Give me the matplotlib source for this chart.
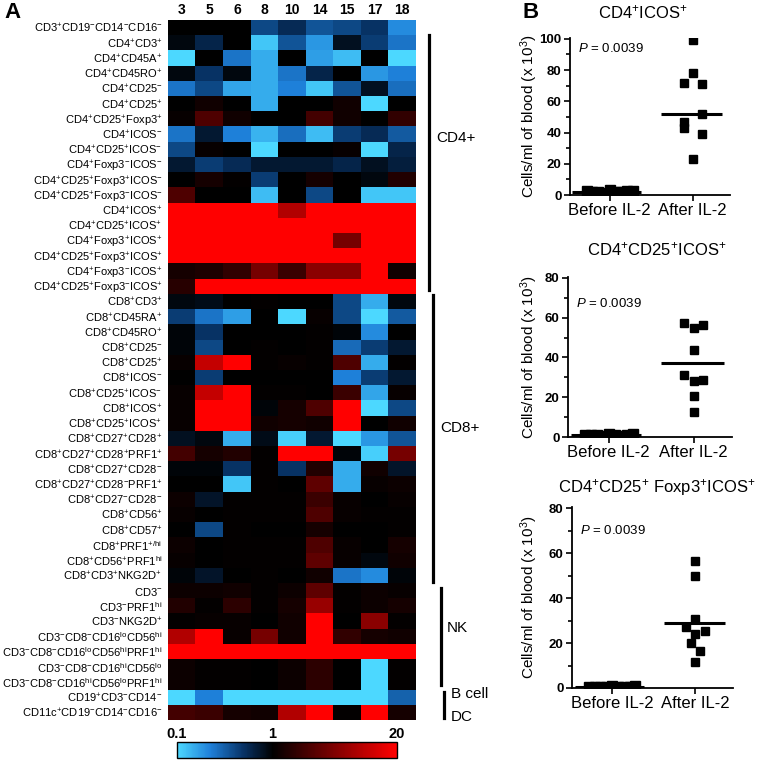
import numpy as np
import matplotlib
matplotlib.use('Agg')
import matplotlib.pyplot as plt
from matplotlib.colors import LinearSegmentedColormap, LogNorm
from matplotlib.ticker import MultipleLocator, FixedLocator

plt.rcParams['font.family'] = ['Liberation Sans', 'DejaVu Sans']
plt.rcParams['mathtext.fontset'] = 'custom'
plt.rcParams['mathtext.rm'] = 'Liberation Sans'
plt.rcParams['mathtext.it'] = 'Liberation Sans:italic'
plt.rcParams['mathtext.bf'] = 'Liberation Sans:bold'

W, H = 770, 761

# ---- panel A data: fold change (after / before IL-2) per patient ----
patients = ['3', '5', '6', '8', '10', '14', '15', '17', '18']

# '+' and '-' become superscripts, {..} is a superscript word
populations = [
    'CD3+CD19-CD14-CD16-', 'CD4+CD3+', 'CD4+CD45A+', 'CD4+CD45RO+',
    'CD4+CD25-', 'CD4+CD25+', 'CD4+CD25+Foxp3+', 'CD4+ICOS-',
    'CD4+CD25+ICOS-', 'CD4+Foxp3-ICOS-', 'CD4+CD25+Foxp3+ICOS-',
    'CD4+CD25+Foxp3-ICOS-', 'CD4+ICOS+', 'CD4+CD25+ICOS+',
    'CD4+Foxp3+ICOS+', 'CD4+CD25+Foxp3+ICOS+', 'CD4+Foxp3-ICOS+',
    'CD4+CD25+Foxp3-ICOS+',
    'CD8+CD3+', 'CD8+CD45RA+', 'CD8+CD45RO+', 'CD8+CD25-', 'CD8+CD25+',
    'CD8+ICOS-', 'CD8+CD25+ICOS-', 'CD8+ICOS+', 'CD8+CD25+ICOS+',
    'CD8+CD27+CD28+', 'CD8+CD27+CD28+PRF1+', 'CD8+CD27+CD28-',
    'CD8+CD27+CD28-PRF1+', 'CD8+CD27-CD28-', 'CD8+CD56+', 'CD8+CD57+',
    'CD8+PRF1{+/hi}', 'CD8+CD56+PRF1{hi}', 'CD8+CD3+NKG2D+',
    'CD3-', 'CD3-PRF1{hi}', 'CD3-NKG2D+', 'CD3-CD8-CD16{lo}CD56{hi}',
    'CD3-CD8-CD16{lo}CD56{hi}PRF1{hi}', 'CD3-CD8-CD16{hi}CD56{lo}',
    'CD3-CD8-CD16{hi}CD56{lo}PRF1{hi}',
    'CD19+CD3-CD14-', 'CD11c+CD19-CD14-CD16-',
]

fold_change = np.array([
    [1.0, 1.0, 1.0, 0.4, 0.55, 0.35, 0.4, 0.5, 0.2],
    [0.9, 0.6, 1.0, 0.12, 0.35, 0.18, 0.8, 0.45, 0.25],
    [0.1, 1.0, 0.25, 0.15, 1.0, 0.17, 0.13, 1.0, 0.1],
    [0.9, 0.5, 0.9, 0.15, 0.25, 0.6, 1.0, 0.18, 0.22],
    [0.25, 0.4, 0.16, 0.15, 0.22, 0.12, 0.35, 0.8, 0.27],
    [1.0, 1.2, 1.0, 0.15, 1.0, 1.0, 1.2, 0.1, 1.0],
    [1.1, 2.5, 1.2, 1.0, 1.0, 2.2, 1.2, 1.0, 1.8],
    [0.25, 0.7, 0.22, 0.14, 0.27, 0.13, 0.45, 0.55, 0.33],
    [0.4, 1.1, 1.0, 0.1, 1.0, 1.0, 1.1, 0.1, 0.6],
    [0.7, 0.45, 0.55, 0.7, 0.7, 0.7, 0.6, 0.8, 0.65],
    [1.0, 1.3, 1.05, 0.45, 1.0, 1.3, 1.0, 0.9, 1.5],
    [2.5, 1.0, 1.0, 0.13, 1.0, 0.4, 1.0, 0.12, 0.12],
    [20, 20, 20, 20, 8, 20, 20, 20, 20],
    [20, 20, 20, 20, 20, 20, 20, 20, 20],
    [20, 20, 20, 20, 20, 20, 4, 20, 20],
    [20, 20, 20, 20, 20, 20, 20, 20, 20],
    [1.3, 1.4, 1.8, 4, 2, 5, 5, 20, 1.2],
    [1.6, 20, 20, 20, 20, 20, 20, 20, 20],
    [0.9, 0.85, 1.0, 1.05, 1.0, 1.0, 0.4, 0.15, 0.9],
    [0.45, 0.25, 0.17, 1.0, 0.1, 1.1, 0.4, 0.1, 0.33],
    [0.95, 0.5, 1.0, 1.0, 1.0, 1.05, 0.95, 0.2, 1.0],
    [0.95, 0.4, 1.0, 1.05, 1.0, 1.05, 0.28, 0.45, 0.7],
    [1.1, 10, 20, 1.05, 1.1, 1.05, 2.5, 0.15, 1.05],
    [1.0, 0.45, 1.0, 1.0, 1.0, 1.0, 0.22, 0.45, 0.7],
    [1.1, 10, 20, 1.05, 1.05, 1.0, 2.0, 0.16, 1.1],
    [1.1, 20, 20, 0.95, 1.3, 2.5, 20, 0.1, 0.4],
    [1.1, 20, 20, 1.2, 1.3, 1.2, 20, 1.0, 1.2],
    [0.8, 0.9, 0.15, 0.85, 0.11, 0.7, 0.1, 0.18, 0.35],
    [2.2, 1.3, 1.5, 1.05, 20, 20, 0.95, 0.11, 4],
    [0.95, 0.95, 0.5, 1.05, 0.5, 1.5, 0.15, 1.2, 0.75],
    [1.0, 1.0, 0.12, 1.05, 1.0, 3, 0.15, 1.1, 1.15],
    [1.15, 0.75, 1.05, 1.05, 1.05, 2, 1.1, 1.0, 1.1],
    [1.1, 1.0, 1.05, 1.05, 1.05, 2.5, 1.1, 1.05, 1.05],
    [1.0, 0.4, 1.05, 1.0, 1.0, 1.3, 1.0, 1.0, 1.05],
    [1.15, 1.0, 1.05, 1.05, 1.05, 2.5, 1.1, 1.0, 1.3],
    [1.1, 1.0, 1.05, 1.05, 1.05, 3, 1.1, 0.9, 1.2],
    [0.95, 0.75, 1.0, 1.05, 1.0, 1.2, 0.25, 0.2, 0.95],
    [1.15, 1.15, 1.2, 1.05, 1.15, 3, 1.05, 1.15, 1.1],
    [1.5, 1.05, 1.7, 1.05, 1.3, 6, 1.05, 1.15, 1.3],
    [1.05, 1.1, 1.1, 1.0, 1.2, 20, 1.0, 5, 1.05],
    [8, 20, 1.1, 4, 1.2, 20, 1.8, 1.3, 1.2],
    [20, 20, 20, 20, 20, 20, 20, 20, 20],
    [1.15, 1.05, 1.05, 1.0, 1.15, 1.7, 1.0, 0.1, 1.05],
    [1.15, 1.05, 1.05, 1.0, 1.15, 1.7, 1.0, 0.1, 1.05],
    [0.1, 0.22, 0.1, 0.1, 0.1, 0.1, 0.1, 0.1, 0.3],
    [2.2, 2.0, 1.3, 1.2, 8, 20, 1.05, 20, 1.3],
])

# group labels shown beside the brackets
group_names = ['CD4+', 'CD8+', 'NK', 'B cell', 'DC']

# ---- panel B data: cells/ml of blood (x 10^3) ----
panel_titles = ['CD4+ICOS+', 'CD4+CD25+ICOS+', 'CD4+CD25+ Foxp3+ICOS+']
before_il2 = [
    [2.5, 1.8, 2.2, 1.5, 2.9, 2.0, 1.7, 2.4, 2.6],
    [1.2, 0.8, 1.0, 0.6, 1.4, 0.9, 0.7, 1.1, 1.3],
    [0.6, 0.4, 0.5, 0.3, 0.7, 0.5, 0.4, 0.6, 0.7],
]
after_il2 = [
    [99, 78, 72, 71, 52, 47, 43, 39, 23],
    [57.5, 54.7, 56.3, 43.8, 31.3, 28, 28.8, 20.5, 12.8],
    [56.5, 50, 30.8, 27.2, 23.8, 25.4, 20.1, 16.6, 11.5],
]
before_line = [2.0, 0.9, 0.5]
after_line = [52, 37, 29]
p_values = ['0.0039', '0.0039', '0.0039']
y_max = [100, 80, 80]


def sup(label):
    out = ''
    i = 0
    while i < len(label):
        c = label[i]
        if c in '+-':
            out += '$^{%s}$' % c
        elif c == '{':
            j = label.index('}', i)
            out += r'$^{\mathrm{%s}}$' % label[i + 1:j]
            i = j
        else:
            out += c
        i += 1
    return out


def px(x0, y0, x1, y1):
    return [x0 / W, 1 - y1 / H, (x1 - x0) / W, (y1 - y0) / H]


fig = plt.figure(figsize=(W / 100, H / 100), dpi=100)

# colour map: blue (0.1) -> black (1) -> red (20), log scale
one = np.log10(1 / 0.1) / np.log10(20 / 0.1)
cmap = LinearSegmentedColormap.from_list('bkr', [
    (0.0, (0.30, 0.85, 1.0)),
    (0.15, (0.12, 0.50, 0.85)),
    (0.30, (0.03, 0.20, 0.40)),
    (one, (0.0, 0.0, 0.0)),
    (1.0, (1.0, 0.0, 0.0)),
])
norm = LogNorm(vmin=0.1, vmax=20)

ax = fig.add_axes(px(168, 20, 416, 720))
im = ax.imshow(fold_change, cmap=cmap, norm=norm, aspect='auto',
               interpolation='nearest')
ax.set_yticks(range(len(populations)))
ax.set_yticklabels([sup(p) for p in populations], fontsize=8.0)
ax.set_xticks(range(len(patients)))
ax.set_xticklabels(patients, fontsize=10, fontweight='bold')
ax.xaxis.set_ticks_position('top')
ax.tick_params(axis='y', length=0, pad=4)
ax.tick_params(axis='x', length=0, pad=2)
for s in ax.spines.values():
    s.set_visible(False)

# bracket lines for the groups (x, top, bottom in pixels)
brackets = [(429, 35, 290), (433, 295, 582), (441, 588, 685), (444, 692, 718)]
for x, y0, y1 in brackets:
    fig.add_artist(plt.Line2D([x / W, x / W], [1 - y0 / H, 1 - y1 / H],
                              color='black', lw=2.3))
name_pos = [(436, 138), (440, 428), (447, 628), (451, 694), (451, 717)]
for (x, y), t in zip(name_pos, group_names):
    fig.text(x / W, 1 - y / H, t, fontsize=11, va='center', ha='left')

# colour bar
cax = fig.add_axes(px(177, 742, 397, 758))
cb = fig.colorbar(im, cax=cax, orientation='horizontal')
cb.set_ticks([0.1, 1, 20])
cb.set_ticklabels(['0.1', '1', '20'])
cax.minorticks_off()
cax.xaxis.set_ticks_position('top')
cax.tick_params(length=0, pad=1, labelsize=10.5)
for lab in cax.get_xticklabels():
    lab.set_fontweight('bold')
cb.outline.set_linewidth(1)

fig.text(4 / W, 1 - 12 / H, 'A', fontsize=16, fontweight='bold', va='center')
fig.text(522 / W, 1 - 12 / H, 'B', fontsize=16, fontweight='bold', va='center')

# ---- panel B dot plots ----
rects = [(570, 38, 730, 195), (568, 277, 732, 437), (572, 507, 733, 688)]
title_pos = [(643, 12), (657, 249), (657, 488)]
after_lane = [
    [0, 0, -1, 1, 1, -1, -1, 1, 0],
    [-1, 0, 1, 0, -1, 0, 1, 0, 0],
    [0, 0, 0, -1, 0, 1, -0.5, 0.5, 0],
]
p_y = [94, 67, 70]

for k in range(3):
    bx = fig.add_axes(px(*rects[k]))
    spread = np.linspace(-0.28, 0.28, len(before_il2[k]))
    bx.plot(0 + spread, before_il2[k], 's', color='black', ms=6.5)
    bx.plot(1 + 0.11 * np.array(after_lane[k]), after_il2[k], 's',
            color='black', ms=5.5)
    bx.hlines(before_line[k], -0.45, 0.38, color='black', lw=2.2)
    bx.hlines(after_line[k], 0.62, 1.35, color='black', lw=2.2)
    bx.set_xlim(-0.48, 1.45)
    bx.set_ylim(0, y_max[k] + 0.5)
    bx.set_xticks([0, 1])
    bx.set_xticklabels(['Before IL-2', 'After IL-2'], fontsize=12)
    bx.yaxis.set_major_locator(FixedLocator(np.arange(0, y_max[k] + 1, 20)))
    bx.yaxis.set_minor_locator(MultipleLocator(10))
    bx.tick_params(axis='y', labelsize=9.5, width=1.2, length=4, pad=2)
    bx.tick_params(axis='y', which='minor', width=1.2, length=3)
    bx.tick_params(axis='x', width=1.2, length=4, pad=2)
    for lab in bx.get_yticklabels():
        lab.set_fontweight('bold')
    for s in ['top', 'right']:
        bx.spines[s].set_visible(False)
    for s in ['left', 'bottom']:
        bx.spines[s].set_linewidth(1.3)
    bx.text(-0.38, p_y[k], '$P$ = ' + p_values[k], fontsize=9.5,
            va='center', ha='left')
    cy = (rects[k][1] + rects[k][3]) / 2
    fig.text(529 / W, 1 - cy / H, 'Cells/ml of blood (x 10$^{3}$)',
             rotation=90, fontsize=11, ha='center', va='center')
    fig.text(title_pos[k][0] / W, 1 - title_pos[k][1] / H,
             sup(panel_titles[k]), fontsize=12, ha='center', va='center')

fig.savefig('out.png', dpi=100)
